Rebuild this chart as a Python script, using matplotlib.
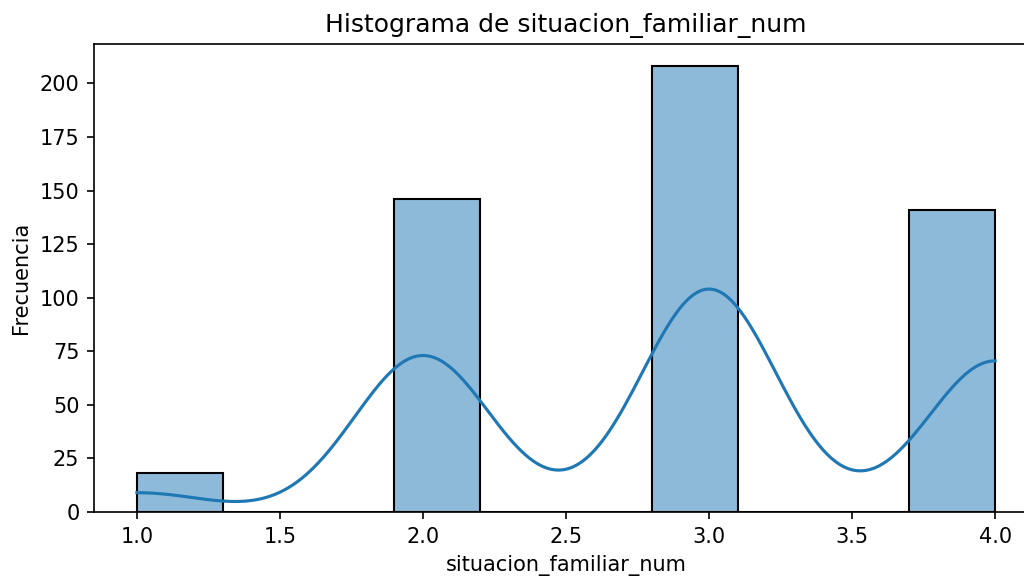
import numpy as np
import matplotlib
matplotlib.use("Agg")
import matplotlib.pyplot as plt
import seaborn as sns

# valores de situacion_familiar_num y cuantas veces aparecen
valores = [1, 2, 3, 4]
conteos = [18, 146, 208, 141]

datos = np.repeat(valores, conteos)

fig = plt.figure(figsize=(1024 / 150, 576 / 150), dpi=150)
# la imagen original esta recortada por la derecha y por abajo
ax = fig.add_axes([94 / 1024, 1 - 512 / 576, 944 / 1024, 468 / 576])
sns.histplot(datos, bins=10, kde=True, ax=ax)
ax.set_title('Histograma de situacion_familiar_num')
ax.set_xlabel('situacion_familiar_num')
ax.set_ylabel('Frecuencia')
fig.savefig('out.png', dpi=150)
